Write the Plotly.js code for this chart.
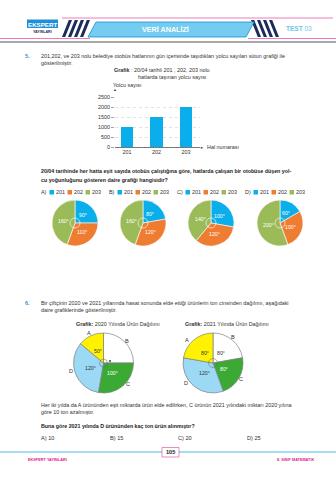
<!DOCTYPE html>
<html><head><meta charset="utf-8">
<script src="https://cdn.plot.ly/plotly-3.0.1.min.js"></script>
<style>html,body{margin:0;padding:0;background:#fff}#c{width:336px;height:480px}</style>
</head><body><div id="c"></div>
<script>
// ---- data ----
const busLines = ['201', '202', '203'];
const riders = [1000, 1500, 2000];
const yTicks = [0, 500, 1000, 1500, 2000, 2500];
const optionLetters = ['A)', 'B)', 'C)', 'D)'];
const pieA = [90, 110, 160];
const pieB = [80, 120, 160];
const pieC = [100, 120, 140];
const pieD = [60, 100, 200];
const products = ['B', 'C', 'D', 'A'];
const prod2020 = [90, 100, 120, 50];
const prod2021 = [80, 80, 120, 80];
const answers = ['A) 10', 'B) 15', 'C) 20', 'D) 25'];

// ---- helpers ----
const W = 336, H = 480;
const X = p => p / W, Y = p => 1 - p / H;
const FONT = 'Liberation Sans, Arial, sans-serif';
const busColors = ['#0aaeea', '#ee7d31', '#9bbb59'];
const prodColors = {A: '#fff200', B: '#ffffff', C: '#3aaa35', D: '#9cd9f5'};
const ann = [];
const shapes = [];
function T(text, x, y, o) {
  o = o || {};
  ann.push({text: text, x: X(x), y: Y(y), xref: 'paper', yref: 'paper', showarrow: false,
    xanchor: o.xa || 'left', yanchor: 'middle', borderpad: 0,
    font: {family: FONT, size: o.size || 5.4, color: o.color || '#333'}});
}
function rect(x0, y0, x1, y1, fill, line, lw) {
  shapes.push({type: 'rect', xref: 'paper', yref: 'paper', x0: X(x0), x1: X(x1), y0: Y(y1), y1: Y(y0),
    fillcolor: fill, line: {color: line || fill, width: lw || 0}, layer: 'above'});
}
function line(x0, y0, x1, y1, color, w, dash) {
  shapes.push({type: 'line', xref: 'paper', yref: 'paper', x0: X(x0), x1: X(x1), y0: Y(y0), y1: Y(y1),
    line: {color: color, width: w, dash: dash || 'solid'}, layer: 'above'});
}
function path(pts, fill, lineColor, lw) {
  const d = pts.map((p, i) => (i ? 'L' : 'M') + X(p[0]) + ',' + Y(p[1])).join(' ') + ' Z';
  shapes.push({type: 'path', xref: 'paper', yref: 'paper', path: d, fillcolor: fill,
    line: {color: lineColor || fill, width: lw || 0}, layer: 'above'});
}
function circle(cx, cy, r, color, w, fill) {
  shapes.push({type: 'circle', xref: 'paper', yref: 'paper', x0: X(cx - r), x1: X(cx + r), y0: Y(cy + r), y1: Y(cy - r),
    line: {color: color, width: w}, fillcolor: fill || 'rgba(0,0,0,0)', layer: 'above'});
}

// ---- header ----
line(62, 18, 333, 18, '#e45aa5', 0.8);
line(0, 38.5, 90, 38.5, '#e45aa5', 0.8);
line(248, 38.5, 336, 38.5, '#e45aa5', 0.8);
line(0, 42, 336, 42, '#a8a8a8', 2);
rect(27, 19.5, 58, 28, '#1e90d8');
T('<b>EKSPERT</b>', 42.5, 24, {xa: 'center', size: 6.2, color: '#fff'});
T('<b>YAYINLARI</b>', 42.5, 32, {xa: 'center', size: 3.6, color: '#1d2b5a'});
[62, 68, 74, 80].forEach(x => path([[x, 37], [x + 3.2, 37], [x + 10, 20], [x + 6.8, 20]], '#1d2b5a'));
[251, 257, 263, 269].forEach(x => path([[x, 20], [x + 3.2, 20], [x + 10, 37], [x + 6.8, 37]], '#1d2b5a'));
path([[96, 22], [254, 22], [246, 37], [88, 37]], '#74cdf1', '#1b8fd2', 0.8);
T('<b>VERİ ANALİZİ</b>', 165, 29.5, {xa: 'center', size: 7.2, color: '#fff'});
T('<b>TEST</b> 03', 285, 28.5, {size: 6.5, color: '#6ec6ea'});

// ---- question 5 ----
T('<b>5.</b>', 24, 56, {color: '#2f8fd0'});
T('201,202, ve 203 nolu belediye otobüs hatlarının gün içerisinde taşıdıkları yolcu sayıları sütun grafiği ile', 40, 56);
T('gösterilmiştir.', 40, 62.5);
T('<b>Grafik</b> : 20/04 tarihli 201 , 202, 203 nolu', 113, 70.5);
T('hatlarda taşınan yolcu sayısı', 137, 77);
T('Yolcu sayısı', 112, 84.5);
T('▲', 115, 89.5, {xa: 'center', size: 4, color: '#444'});
T('►', 202, 147, {xa: 'center', size: 4, color: '#444'});
T('Hal numarası', 206, 147);
T('<b>20/04 tarihinde her hatta eşit sayıda otobüs çalıştığına göre, hatlarda çalışan bir otobüse düşen yol-</b>', 40, 171, {size: 5.3, color: '#222'});
T('<b>cu yoğunluğunu gösteren daire grafiği hangisidir?</b>', 40, 180, {size: 5.3, color: '#222'});

// legend rows
optionLetters.forEach((L, i) => {
  const ox = 40 + i * 68;
  T(L, ox, 192);
  busLines.forEach((b, j) => {
    const sx = ox + 9.5 + j * 18;
    rect(sx, 190, sx + 4.5, 194.5, busColors[j]);
    T(b, sx + 5.5, 192);
  });
});

// ---- question 6 ----
T('<b>6.</b>', 24, 302.5, {color: '#2f8fd0'});
T('Bir çiftçinin 2020 ve 2021 yıllarında hasat sonunda elde ettiği ürünlerin ton cinsinden dağılımı, aşağıdaki', 40, 302.5);
T('daire grafiklerinde gösterilmiştir.', 40, 309.5);
T('<b>Grafik:</b> 2020 Yılında Ürün Dağılımı', 118, 324, {xa: 'center'});
T('<b>Grafik:</b> 2021 Yılında Ürün Dağılımı', 227, 324, {xa: 'center'});
[['A', 89, 333], ['B', 127, 341], ['C', 128, 384], ['D', 71, 371],
 ['A', 187, 340], ['B', 233, 337], ['C', 241, 379], ['D', 186, 383]].forEach(a => T(a[0], a[1], a[2], {xa: 'center', size: 5.6}));
T('Her iki yılda da A ürününden eşit miktarda ürün elde edilirken, C ürünün 2021 yılındaki miktarı 2020 yılına', 40, 404.5);
T('göre 10 ton azalmıştır.', 40, 411.5);
T('<b>Buna göre 2021 yılında D ürününden kaç ton ürün alınmıştır?</b>', 40, 425.5, {size: 5.3, color: '#222'});
answers.forEach((a, i) => T(a, 40 + i * 68.5, 437.5, {size: 5.6}));

// ---- footer ----
line(0, 452, 336, 452, '#86d2ef', 1.5);
rect(162, 447.5, 179, 457, '#ffffff', '#e45aa5', 0.7);
T('<b>105</b>', 170.5, 452.3, {xa: 'center', size: 5.6, color: '#222'});
T('<b>EKSPERT YAYINLARI</b>', 27, 459.5, {size: 3.8, color: '#e0218a'});
T('<b>8. SINIF MATEMATİK</b>', 315, 459.5, {xa: 'right', size: 3.8, color: '#e0218a'});

// ---- traces ----
const traces = [];
traces.push({type: 'bar', x: busLines, y: riders, marker: {color: '#0aaeea'}, width: 0.41,
  xaxis: 'x', yaxis: 'y', hoverinfo: 'none'});

// pie slices drawn by plotly; degree labels placed at each slice's mid-angle
function pie(vals, colors, cx, cy, r, opts) {
  opts = opts || {};
  traces.push({type: 'pie', values: vals, sort: false, direction: 'clockwise', rotation: 0,
    domain: {x: [X(cx - r), X(cx + r)], y: [Y(cy + r), Y(cy - r)]},
    marker: {colors: colors, line: {color: opts.lineColor || '#fff', width: opts.lw || 0.6}},
    textinfo: 'none', hoverinfo: 'none', showlegend: false});
  const tot = vals.reduce((a, b) => a + b, 0);
  let acc = 0;
  vals.forEach((v, i) => {
    const mid = (acc + v / 2) / tot * 2 * Math.PI;
    acc += v;
    if (opts.skip && opts.skip[i]) return;
    const rr = r * (opts.lr || 0.5);
    T(v + '°', cx + rr * Math.sin(mid), cy - rr * Math.cos(mid),
      {xa: 'center', size: 5.2, color: opts.tc ? opts.tc[i] : '#fff'});
  });
}
[pieA, pieB, pieC, pieD].forEach((p, i) => {
  const cx = [75, 143, 211, 280][i];
  pie(p, busColors, cx, 223, 23, {lr: 0.5});
  circle(cx, 223, 5, '#fff', 0.6);
});
const darkOrWhite = products.map(k => k === 'C' ? '#fff' : '#333');
pie(prod2020, products.map(k => prodColors[k]), 103.5, 363, 30,
  {lineColor: '#808080', lw: 0.7, lr: 0.45, skip: products.map(k => k === 'B'), tc: darkOrWhite});
pie(prod2021, products.map(k => prodColors[k]), 213, 363, 30,
  {lineColor: '#808080', lw: 0.7, lr: 0.42, tc: darkOrWhite});
circle(103.5, 363, 4, '#666', 0.5);
circle(110, 361, 0.7, '#222', 0.5, '#222');
circle(213, 363, 4.5, '#666', 0.5);

const layout = {
  width: W, height: H, margin: {l: 0, r: 0, t: 0, b: 0}, paper_bgcolor: '#fff', plot_bgcolor: 'rgba(0,0,0,0)',
  font: {family: FONT, size: 5.4, color: '#333'}, showlegend: false, bargap: 0,
  xaxis: {domain: [X(115), X(200)], range: [-0.407, 2.475], type: 'category', showline: true,
    linecolor: '#555', linewidth: 0.8, ticks: '', showgrid: false, zeroline: false,
    tickfont: {size: 5.4, color: '#333'}, fixedrange: true},
  yaxis: {domain: [Y(147), Y(96.5)], range: [0, 2525], tickvals: yTicks, ticks: 'outside', ticklen: 3,
    tickcolor: '#666', tickwidth: 0.6, showgrid: true, gridcolor: '#cfcfcf', griddash: 'dot', gridwidth: 0.6,
    zeroline: false, showline: false, tickfont: {size: 5.4, color: '#333'}, fixedrange: true},
  annotations: ann, shapes: shapes
};
Plotly.newPlot('c', traces, layout, {staticPlot: true, displayModeBar: false});
</script></body></html>
